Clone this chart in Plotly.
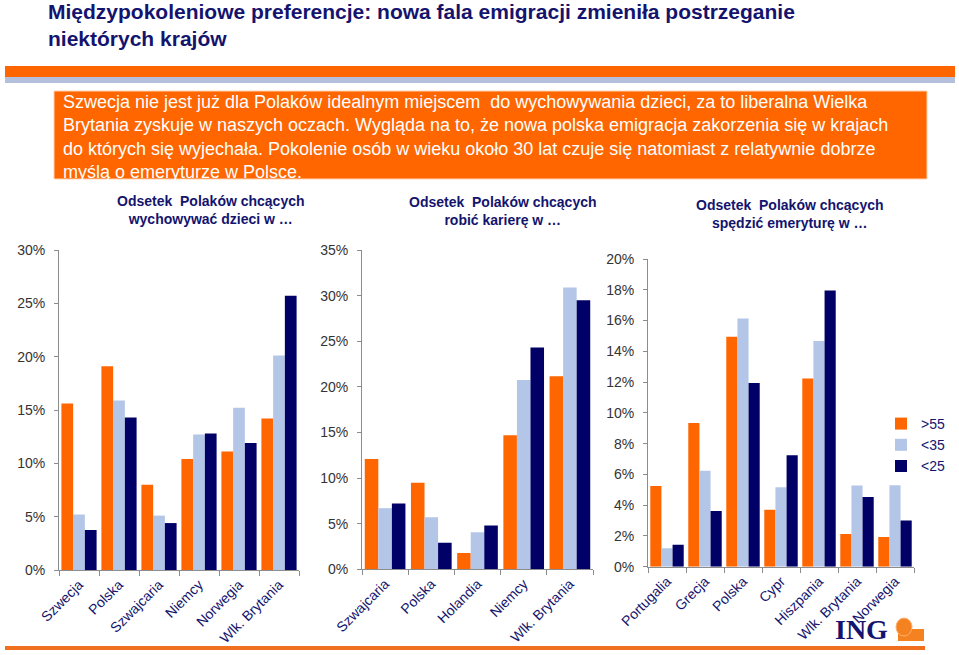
import plotly.graph_objects as go

W, H = 959, 655

series_names = [">55", "<35", "<25"]
colors = ["#FF6600", "#B4C6E7", "#000066"]

cats1 = ["Szwecja", "Polska", "Szwajcaria", "Niemcy", "Norwegia", "Wlk. Brytania"]
c1_55 = [15.6, 19.1, 8.0, 10.4, 11.1, 14.2]
c1_35 = [5.2, 15.9, 5.1, 12.7, 15.2, 20.1]
c1_25 = [3.75, 14.3, 4.4, 12.8, 11.9, 25.7]

cats2 = ["Szwajcaria", "Polska", "Holandia", "Niemcy", "Wlk. Brytania"]
c2_55 = [12.1, 9.5, 1.8, 14.7, 21.15]
c2_35 = [6.7, 5.7, 4.05, 20.75, 30.9]
c2_25 = [7.2, 2.9, 4.8, 24.3, 29.5]

cats3 = ["Portugalia", "Grecja", "Polska", "Cypr", "Hiszpania", "Wlk. Brytania", "Norwegia"]
c3_55 = [5.24, 9.34, 14.95, 3.7, 12.24, 2.12, 1.93]
c3_35 = [1.2, 6.24, 16.14, 5.16, 14.67, 5.27, 5.29]
c3_25 = [1.43, 3.62, 11.94, 7.24, 17.96, 4.53, 3.01]

y1_ticks = [0, 5, 10, 15, 20, 25, 30]
y2_ticks = [0, 5, 10, 15, 20, 25, 30, 35]
y3_ticks = [0, 2, 4, 6, 8, 10, 12, 14, 16, 18, 20]

title_text = ("Międzypokoleniowe preferencje: nowa fala emigracji zmieniła postrzeganie<br>"
              "niektórych krajów")
box_text = ("Szwecja nie jest już dla Polaków idealnym miejscem  do wychowywania dzieci, za to liberalna Wielka<br>"
            "Brytania zyskuje w naszych oczach. Wygląda na to, że nowa polska emigracja zakorzenia się w krajach<br>"
            "do których się wyjechała. Pokolenie osób w wieku około 30 lat czuje się natomiast z relatywnie dobrze<br>"
            "myślą o emeryturze w Polsce.")
sub_titles = ["Odsetek  Polaków chcących<br>wychowywać dzieci w …",
              "Odsetek  Polaków chcących<br>robić karierę w …",
              "Odsetek  Polaków chcących<br>spędzić emeryturę w …"]

NAVY = "#14146E"
FONT = "Liberation Sans, Arial"

def px_x(x):
    return x / W

def px_y(y):
    return 1 - y / H

fig = go.Figure()

charts = [
    (cats1, [c1_55, c1_35, c1_25], y1_ticks, (59, 299), (570, 250)),
    (cats2, [c2_55, c2_35, c2_25], y2_ticks, (362, 593), (569.3, 250)),
    (cats3, [c3_55, c3_35, c3_25], y3_ticks, (648, 914), (566.7, 259)),
]

for i, (cats, vals, yt, (x0, x1), (yb, ytop)) in enumerate(charts):
    n = i + 1
    xa = "x" if n == 1 else f"x{n}"
    ya = "y" if n == 1 else f"y{n}"
    for s, (name, col) in enumerate(zip(series_names, colors)):
        fig.add_trace(go.Bar(
            x=cats, y=vals[s], name=name, marker_color=col, marker_line_width=0,
            xaxis=xa, yaxis=ya, legendgroup=name, showlegend=(n == 3),
        ))
    axis_common = dict(showline=True, linecolor="#8C8C8C", linewidth=1, automargin=False)
    fig.layout[f"xaxis{'' if n == 1 else n}"] = dict(
        domain=[px_x(x0), px_x(x1)], anchor=ya, type="category",
        tickangle=-45, tickson="boundaries", ticks="outside", ticklen=5,
        tickcolor="#8C8C8C", tickfont=dict(size=14, color=NAVY, family=FONT),
        showgrid=False, **axis_common)
    fig.layout[f"yaxis{'' if n == 1 else n}"] = dict(
        domain=[px_y(yb), px_y(ytop)], anchor=xa, range=[0, yt[-1]],
        tickvals=yt, ticktext=[f"{v}%" for v in yt], ticks="outside", ticklen=4,
        tickcolor="#8C8C8C", tickfont=dict(size=14, color="#333333", family=FONT),
        showgrid=False, zeroline=False, ticklabelstandoff=6, **axis_common)

def rect(x0, x1, y0, y1, color, **kw):
    return dict(type="rect", xref="paper", yref="paper", x0=px_x(x0), x1=px_x(x1),
                y0=px_y(y1), y1=px_y(y0), fillcolor=color, layer="below", **kw)

shapes = [
    rect(5, 955, 66, 77, "#FF6600", line_width=0),
    rect(5, 955, 77, 83, "#B4C0DC", line_width=0),
    rect(54, 927, 91, 179, "#FF6600", line=dict(color="#FFD2B0", width=1)),
    rect(5, 925, 646, 650, "#F07020", line_width=0),
    # simple lion emblem next to the ING logo
    dict(type="rect", xref="paper", yref="paper", x0=px_x(898), x1=px_x(924),
         y0=px_y(641), y1=px_y(629), fillcolor="#F58220", line_width=0, layer="above"),
    dict(type="circle", xref="paper", yref="paper", x0=px_x(896), x1=px_x(912),
         y0=px_y(636), y1=px_y(618), fillcolor="#F58220", line=dict(color="#FFB070", width=1), layer="above"),
]

annotations = [
    dict(text="<b>" + title_text + "</b>", x=px_x(46), y=px_y(-2), xref="paper", yref="paper",
         xanchor="left", yanchor="top", align="left", showarrow=False,
         font=dict(size=21, color=NAVY, family=FONT)),
    dict(text=box_text, x=px_x(61), y=px_y(90), xref="paper", yref="paper",
         xanchor="left", yanchor="top", align="left", showarrow=False,
         font=dict(size=18, color="white", family=FONT)),
    dict(text="<b>ING</b>", x=px_x(861), y=px_y(629), xref="paper", yref="paper",
         xanchor="center", yanchor="middle", showarrow=False,
         font=dict(size=28, color=NAVY, family="Liberation Serif, Times New Roman")),
]
sub_pos = [(211, 210), (503, 211), (790, 214)]
for t, (cx, cy) in zip(sub_titles, sub_pos):
    annotations.append(dict(text=f"<b>{t}</b>", x=px_x(cx), y=px_y(cy), xref="paper", yref="paper",
                            xanchor="center", yanchor="middle", showarrow=False,
                            font=dict(size=14, color=NAVY, family=FONT)))

fig.update_layout(
    width=W, height=H, margin=dict(l=0, r=0, t=0, b=0, autoexpand=False),
    paper_bgcolor="white", plot_bgcolor="white",
    barmode="group", bargap=0.12, bargroupgap=0,
    shapes=shapes, annotations=annotations,
    legend=dict(x=px_x(950), y=px_y(408), xanchor="right", yanchor="top",
                font=dict(size=14, color=NAVY, family=FONT),
                bgcolor="rgba(0,0,0,0)", itemwidth=30, tracegroupgap=0),
    showlegend=True,
)

fig.write_html("out.html", config={"displayModeBar": False},
               post_script="document.body.style.margin='0';document.body.style.overflow='hidden';")
